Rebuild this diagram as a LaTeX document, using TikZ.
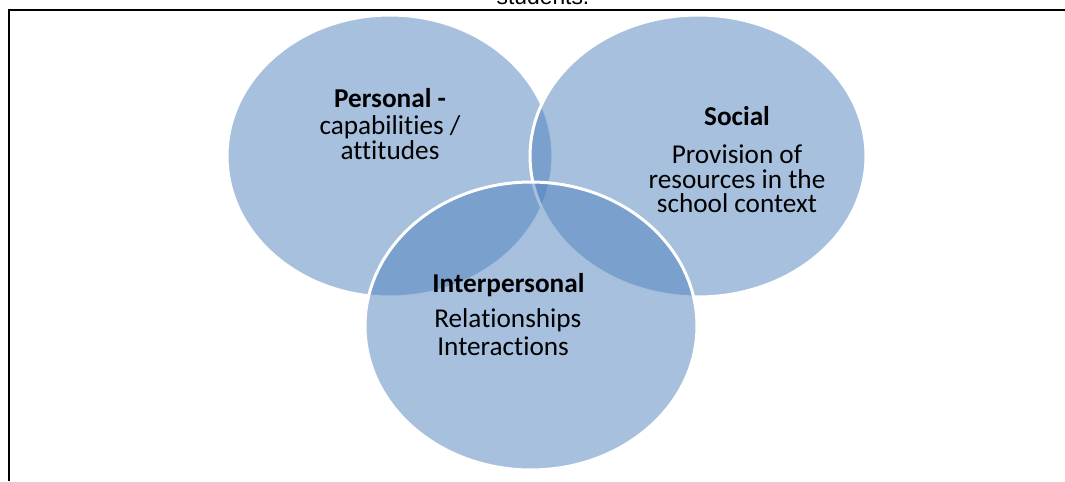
\documentclass[tikz,border=0pt]{standalone}
\usepackage{fontspec}
\setmainfont{Carlito}[RawFeature=-liga]
\newfontfamily\captionfont{Liberation Sans}
\usepackage{tikz}

\definecolor{setblue}{HTML}{4F81BD}

\tikzset{
  setfill/.style={fill=setblue, fill opacity=0.5, draw=white, line width=1.7pt},
  lbl/.style={anchor=base, inner sep=0pt, font=\fontsize{15.5}{15}\selectfont},
  lblw/.style={lbl, anchor=base west},
}

\begin{document}
\begin{tikzpicture}[x=0.02cm, y=-0.02cm]
\useasboundingbox (0,0) rectangle (1065,481);

% caption line cut by the top of the page
\node[anchor=base, inner sep=0pt, font=\captionfont\fontsize{13}{15}\selectfont] (caption) at (543,4) {students.};

% open frame: top edge and left edge only
\draw[line width=1.2pt] (9,481) -- (9,10) -- (1065,10);

% the three sets
\path[setfill] (390,156) ellipse [x radius=3.26cm, y radius=2.82cm];
\path[setfill] (698,156) ellipse [x radius=3.36cm, y radius=2.82cm];
\path[setfill] (531,326) ellipse [x radius=3.32cm, y radius=2.88cm];

% personal
\node[lbl] (pers) at (390,107) {\textbf{Personal -}};
\node[lbl] (pers2) at (390,134) {capabilities /};
\node[lbl] (pers3) at (390,159) {attitudes};

% social
\node[lbl] (soc) at (737,125) {\textbf{Social}};
\node[lbl] (soc2) at (737,163) {Provision of};
\node[lbl] (soc3) at (737,188) {resources in the};
\node[lbl] (soc4) at (737,212) {school context};

% interpersonal
\node[lblw] (inter) at (432,292) {\textbf{Interpersonal}};
\node[lblw] (inter2) at (434,327) {Relationships};
\node[lblw] (inter3) at (437,355) {Interactions};
\end{tikzpicture}
\end{document}
